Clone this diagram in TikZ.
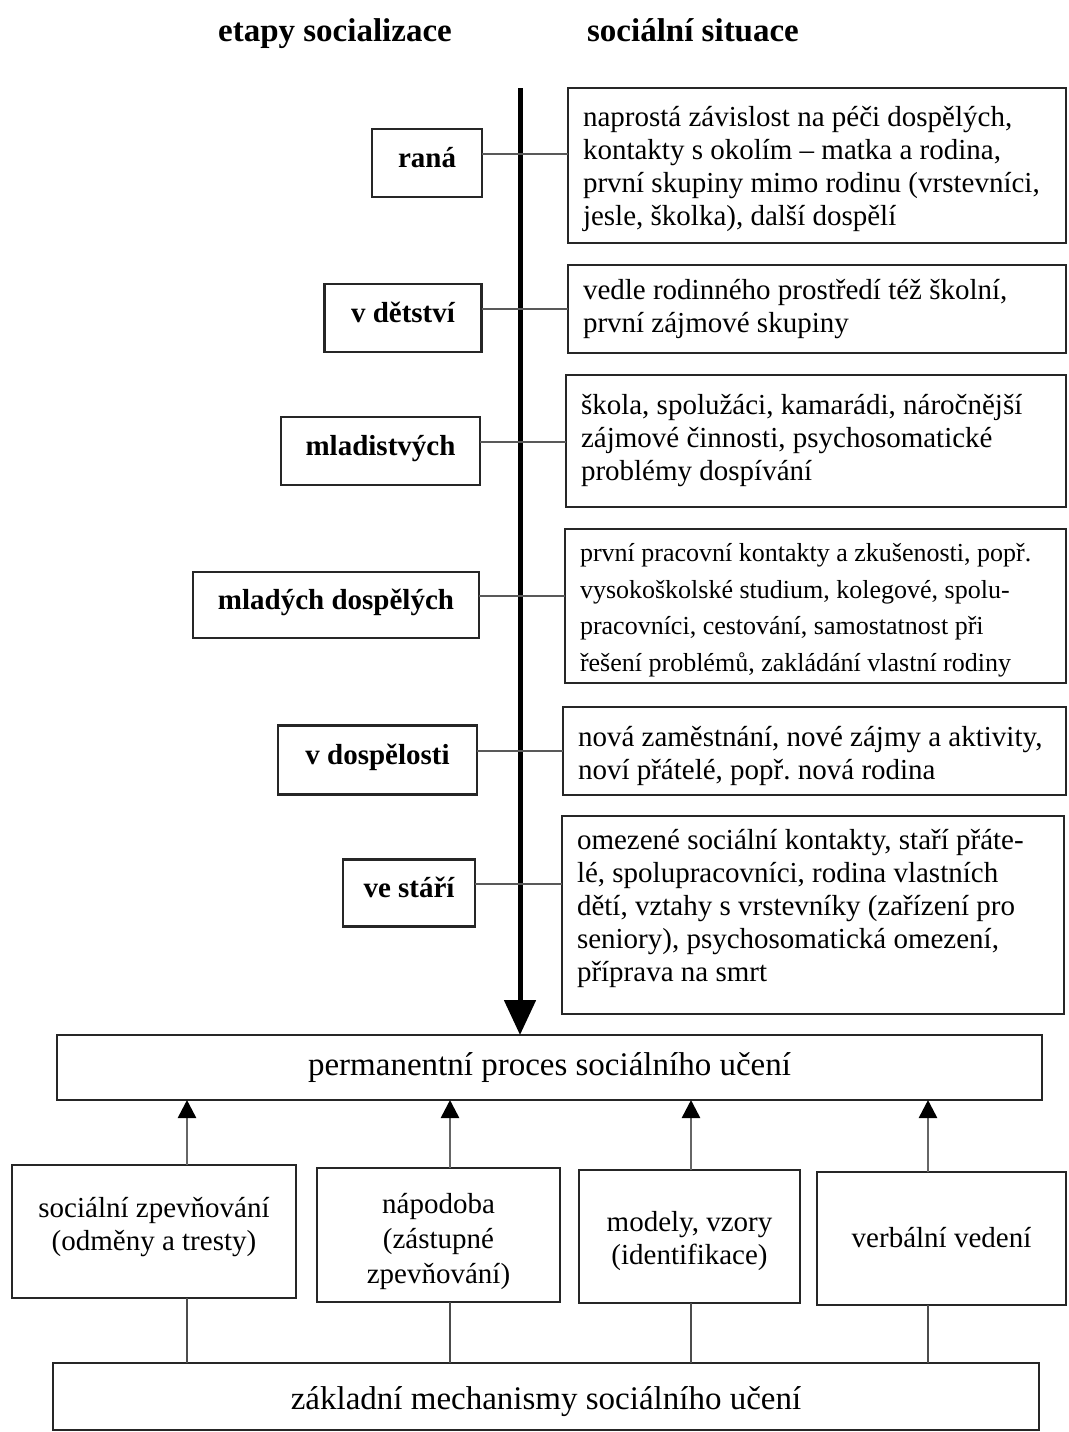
\documentclass[tikz,border=0pt]{standalone}
\usepackage{fontspec}
\setmainfont{Liberation Serif}
\usetikzlibrary{arrows.meta}
\frenchspacing
\newcommand{\lines}[2][0pt]{\raisebox{#1}[\height][\depth]{\begin{tabular}{@{}l@{}}#2\end{tabular}}}
\newcommand{\clines}[2][0pt]{\raisebox{#1}[\height][\depth]{\begin{tabular}{@{}c@{}}#2\end{tabular}}}
\begin{document}
\begin{tikzpicture}[x=1pt,y=-1pt,
  frame/.style={draw=black!85, line width=2.6pt, inner sep=0pt, outer sep=0pt},
  stage/.style={frame, font=\fontsize{29}{34}\selectfont\bfseries, text height=22pt, text depth=13pt},
  situ/.style={frame, font=\fontsize{29}{33}\selectfont, align=flush left, inner xsep=15pt},
  mech/.style={frame, font=\fontsize{29}{33}\selectfont},
  wide/.style={frame, font=\fontsize{33}{38}\selectfont},
  head/.style={font=\fontsize{33}{38}\selectfont\bfseries, inner sep=0pt, anchor=base},
  link/.style={draw=black!65, line width=2.6pt},
  up/.style={draw=black!60, line width=2.6pt, -{Triangle[width=18pt,length=18pt,color=black]}},
  down/.style={draw=black!70, line width=2.4pt},
  main/.style={draw=black, line width=5pt, -{Triangle[width=31pt,length=35pt]}}
]
\useasboundingbox (0,0) rectangle (1068,1432);

% titles
\node[head] (t1) at (335,41) {etapy socializace};
\node[head] (t2) at (693,41) {sociální situace};

% stages (left)
\node[stage, minimum width=110pt, minimum height=68pt] (s1) at (427,163) {raná};
\node[stage, minimum width=157pt, minimum height=68pt] (s2) at (403,318) {v dětství};
\node[stage, minimum width=199pt, minimum height=68pt] (s3) at (380.5,451) {mladistvých};
\node[stage, minimum width=286pt, minimum height=66pt] (s4) at (336,605) {mladých dospělých};
\node[stage, minimum width=199pt, minimum height=69pt] (s5) at (377.5,760) {v dospělosti};
\node[stage, minimum width=132pt, minimum height=67pt] (s6) at (409,893) {ve stáří};

% social situations (right)
\node[situ, minimum width=498pt, minimum height=155pt, text width=468pt] (r1) at (817,165.5)
  {\lines[-4pt]{naprostá závislost na péči dospělých,\\kontakty s okolím -- matka a rodina,\\první skupiny mimo rodinu (vrstevníci,\\jesle, školka), další dospělí}};
\node[situ, minimum width=498pt, minimum height=88pt, text width=468pt] (r2) at (817,309)
  {\lines{vedle rodinného prostředí též školní,\\první zájmové skupiny}};
\node[situ, minimum width=500pt, minimum height=132pt, text width=470pt] (r3) at (816,441)
  {\lines{škola, spolužáci, kamarádi, náročnější\\zájmové činnosti, psychosomatické\\problémy dospívání}};
\node[situ, minimum width=501pt, minimum height=154pt, text width=471pt, font=\fontsize{26}{36.5}\selectfont] (r4) at (815.5,606)
  {\lines[-3pt]{první pracovní kontakty a zkušenosti, popř.\\vysokoškolské studium, kolegové, spolu-\\pracovníci, cestování, samostatnost při\\řešení problémů, zakládání vlastní rodiny}};
\node[situ, minimum width=503pt, minimum height=88pt, text width=473pt] (r5) at (814.5,751)
  {\lines[-5pt]{nová zaměstnání, nové zájmy a aktivity,\\noví přátelé, popř. nová rodina}};
\node[situ, minimum width=502pt, minimum height=198pt, text width=472pt] (r6) at (813,915)
  {\lines[6pt]{omezené sociální kontakty, staří přáte-\\lé, spolupracovníci, rodina vlastních\\dětí, vztahy s vrstevníky (zařízení pro\\seniory), psychosomatická omezení,\\příprava na smrt}};

% learning
\node[wide, minimum width=985pt, minimum height=65pt] (perm) at (549.5,1067.5) {permanentní proces sociálního učení};
\node[mech, minimum width=284pt, minimum height=133pt] (m1) at (154,1231.5) {\clines[4pt]{sociální zpevňování\\(odměny a tresty)}};
\node[mech, minimum width=243pt, minimum height=134pt, font=\fontsize{29}{35}\selectfont] (m2) at (438.5,1235) {\clines[-6pt]{nápodoba\\(zástupné\\zpevňování)}};
\node[mech, minimum width=221pt, minimum height=133pt] (m3) at (689.5,1236.5) {\clines[-5pt]{modely, vzory\\(identifikace)}};
\node[mech, minimum width=249pt, minimum height=133pt] (m4) at (941.5,1238.5) {\clines[-2pt]{verbální vedení}};
\node[wide, minimum width=986pt, minimum height=67pt] (base) at (546,1396.5) {\clines[-5pt]{základní mechanismy sociálního učení}};

% main time arrow
\coordinate (start) at (520,88);
\draw[main] (start) -- (start |- perm.north);

% stage to situation connectors
\foreach \s/\r in {s1/r1,s2/r2,s3/r3,s4/r4,s5/r5,s6/r6}
  \draw[link] ([yshift=9pt]\s.east) -- ([yshift=9pt]\s.east -| \r.west);

% mechanisms
\foreach \m/\dx in {m1/33,m2/11.5,m3/1.5,m4/-13.5}{
  \draw[up] ([xshift=\dx pt]\m.north) -- ([xshift=\dx pt]\m.north |- perm.south);
  \draw[down] ([xshift=\dx pt]\m.south) -- ([xshift=\dx pt]\m.south |- base.north);
}
\end{tikzpicture}
\end{document}
